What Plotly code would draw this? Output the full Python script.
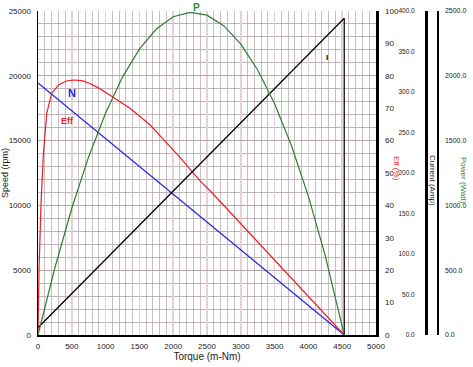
import plotly.graph_objects as go

# ---- data ----
speed_torque = [0, 4530]
speed_rpm = [19450, 0]

current_torque = [0, 4530, 4530]
current_amp = [9, 391, 0]

eff_torque = [0, 15, 45, 80, 130, 205, 305, 420, 530, 650, 760, 900, 1060, 1200, 1360,
              1500, 1660, 1800, 1960, 2100, 2260, 2400, 2560, 2800, 3000, 3300, 3500,
              3800, 4000, 4300, 4530]
eff_pct = [0, 20, 40.7, 56, 68.5, 74.7, 77.2, 78.4, 78.7, 78.5, 77.7, 76.2, 74.1, 72.2, 70,
           67.6, 64.8, 61.6, 58.1, 54.8, 50.9, 47.5, 44.2, 38.8, 34.3, 27.5, 23.0,
           16.3, 11.8, 5.1, 0]

power_torque = [0, 250, 500, 750, 1000, 1250, 1500, 1750, 2000, 2250, 2500, 2750, 3000,
                3250, 3500, 3750, 4000, 4250, 4530]
power_watt = [0, 519, 978, 1376, 1713, 1990, 2206, 2361, 2456, 2490, 2468, 2385, 2245,
              2045, 1785, 1460, 1070, 610, 0]

x_ticks = [0, 500, 1000, 1500, 2000, 2500, 3000, 3500, 4000, 4500, 5000]
speed_ticks = [0, 5000, 10000, 15000, 20000, 25000]
eff_ticks = [0, 10, 20, 30, 40, 50, 60, 70, 80, 90, 100]
current_ticks = [0, 50, 100, 150, 200, 250, 300, 350, 400]
power_ticks = [0, 500, 1000, 1500, 2000, 2500]

# ---- geometry ----
W, H = 473, 367
L, R_PX, T, B = 38, 470, 11, 335
paper_w = R_PX - L
plot_right = 376
dom_end = (plot_right - L) / paper_w
cur_pos = (426 - L) / paper_w
pow_pos = (437 - L) / paper_w

tick_font = dict(family="Liberation Sans, Arial", size=8, color="#222222")
cur_font = dict(family="Liberation Sans, Arial", size=6.5, color="#222222")
pow_font = dict(family="Liberation Sans, Arial", size=7, color="#222222")

fig = go.Figure()
fig.add_trace(go.Scatter(x=power_torque, y=power_watt, yaxis="y4", mode="lines",
                         line=dict(color="#2E7D32", width=1.2), hoverinfo="skip"))
fig.add_trace(go.Scatter(x=current_torque, y=current_amp, yaxis="y3", mode="lines",
                         line=dict(color="#000000", width=1.2), hoverinfo="skip"))
fig.add_trace(go.Scatter(x=speed_torque, y=speed_rpm, yaxis="y", mode="lines",
                         line=dict(color="#1F1FE0", width=1.2), hoverinfo="skip"))
fig.add_trace(go.Scatter(x=eff_torque, y=eff_pct, yaxis="y2", mode="lines",
                         line=dict(color="#EE1C25", width=1.2), hoverinfo="skip"))

fig.update_layout(
    width=W, height=H,
    margin=dict(l=L, r=W - R_PX, t=T, b=H - B, autoexpand=False),
    paper_bgcolor="white", plot_bgcolor="white",
    showlegend=False,
    xaxis=dict(domain=[0, dom_end], range=[0, 5000], tickvals=x_ticks, automargin=False,
               ticktext=[str(v) for v in x_ticks], tickfont=tick_font,
               showgrid=True, gridcolor="#E4D0D7", gridwidth=1.6,
               minor=dict(dtick=100, showgrid=True, gridcolor="#BBAEB4", gridwidth=0.8),
               showline=True, linecolor="black", linewidth=1.5, zeroline=False,
               ticks="", ticklabelstandoff=3,
               title=dict(text="Torque (m-Nm)", font=dict(family="Liberation Sans, Arial",
                          size=10, color="#222222"), standoff=0)),
    yaxis=dict(range=[0, 25000], tickvals=speed_ticks, ticktext=[str(v) for v in speed_ticks],
               automargin=False,
               tickfont=tick_font, showgrid=True, gridcolor="#B0A2A9", gridwidth=0.8,
               minor=dict(dtick=1000, showgrid=True, gridcolor="#B0A2A9", gridwidth=0.8),
               showline=True, linecolor="black", linewidth=1.5, zeroline=False,
               ticks="", ticklabelstandoff=4,
               title=dict(text="Speed (rpm)", font=dict(family="Liberation Sans, Arial",
                          size=9, color="#222222"), standoff=3)),
    yaxis2=dict(overlaying="y", side="right", anchor="x", range=[0, 100], automargin=False,
                tickvals=eff_ticks, ticktext=[str(v) for v in eff_ticks], tickfont=tick_font,
                showgrid=False, zeroline=False, showline=True, linecolor="black",
                linewidth=2.5, ticks="", ticklabelstandoff=5),
    yaxis3=dict(overlaying="y", side="left", anchor="free", position=cur_pos, automargin=False,
                range=[0, 400], tickvals=current_ticks,
                ticktext=["%.1f" % v for v in current_ticks], tickfont=cur_font,
                showgrid=False, zeroline=False, showline=True, linecolor="black",
                linewidth=2.5, ticks="", ticklabelstandoff=9),
    yaxis4=dict(overlaying="y", side="right", anchor="free", position=pow_pos, automargin=False,
                range=[0, 2500], tickvals=power_ticks,
                ticktext=["%.1f" % v for v in power_ticks], tickfont=pow_font,
                showgrid=False, zeroline=False, showline=True, linecolor="black",
                linewidth=1.5, ticks="", ticklabelstandoff=5),
)

def px_to_paper_x(px):
    return (px - L) / paper_w

def px_to_paper_y(py):
    return (B - py) / (B - T)

annos = [
    dict(text="Eff (%)", x=px_to_paper_x(397), y=px_to_paper_y(168),
         font=dict(family="Liberation Sans, Arial", size=8, color="#E03030"), textangle=90),
    dict(text="Current (Amp)", x=px_to_paper_x(433), y=px_to_paper_y(180),
         font=dict(family="Liberation Sans, Arial", size=8, color="#222222"), textangle=90),
    dict(text="Power (Watt)", x=px_to_paper_x(464), y=px_to_paper_y(180),
         font=dict(family="Liberation Sans, Arial", size=8, color="#2E8B2E"), textangle=90),
    dict(text="<b>P</b>", x=px_to_paper_x(196), y=px_to_paper_y(8),
         font=dict(family="Liberation Sans, Arial", size=10, color="#2E8B2E")),
    dict(text="<b>N</b>", x=px_to_paper_x(72), y=px_to_paper_y(93),
         font=dict(family="Liberation Sans, Arial", size=11, color="#1F1FE0")),
    dict(text="<b>Eff</b>", x=px_to_paper_x(67), y=px_to_paper_y(121),
         font=dict(family="Liberation Sans, Arial", size=9, color="#EE1C25")),
    dict(text="<b>I</b>", x=px_to_paper_x(327), y=px_to_paper_y(58),
         font=dict(family="Liberation Sans, Arial", size=8, color="#000000")),
]
for a in annos:
    a.update(xref="paper", yref="paper", showarrow=False, xanchor="center", yanchor="middle")
fig.update_layout(annotations=annos)

fig.write_html("out.html", config={"displayModeBar": False, "staticPlot": True},
               post_script="document.body.style.margin='0';document.body.style.overflow='hidden';")
